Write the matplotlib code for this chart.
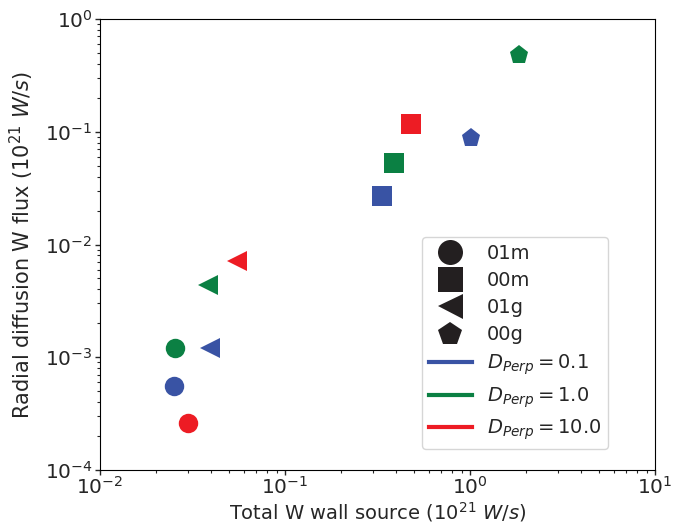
import matplotlib
matplotlib.use("Agg")
import matplotlib.pyplot as plt
from matplotlib.lines import Line2D

# cases (marker) and D_perp (colour)
cases = ["01m", "00m", "01g", "00g"]
markers = ["o", "s", "<", "p"]
d_perp = [0.1, 1.0, 10.0]
colors = ["#3953a4", "#0b8043", "#ed1c24"]

# wall source and radial flux, rows = case, cols = D_perp (None = missing)
source = [
    [0.0251, 0.0254, 0.0300],
    [0.333, 0.388, 0.478],
    [0.0393, 0.0385, 0.0551],
    [1.01, 1.83, None],
]
flux = [
    [5.52e-4, 1.22e-3, 2.62e-4],
    [0.0272, 0.0528, 0.116],
    [1.22e-3, 4.39e-3, 7.15e-3],
    [0.0885, 0.481, None],
]

plt.rcParams['font.family'] = ['DejaVu Sans']
plt.rcParams['text.color'] = '#262626'
plt.rcParams['axes.labelcolor'] = '#262626'
plt.rcParams['xtick.color'] = '#262626'
plt.rcParams['ytick.color'] = '#262626'

fig = plt.figure(figsize=(6.88, 5.26), dpi=100)
ax = fig.add_axes([100/688, 1 - 470/526, 555/688, 451/526])

for i in range(len(cases)):
    for j in range(len(d_perp)):
        if source[i][j] is None:
            continue
        ax.plot(source[i][j], flux[i][j], linestyle='none', marker=markers[i],
                markersize=14, color=colors[j], markeredgewidth=0)

ax.set_xscale('log')
ax.set_yscale('log')
ax.set_xlim(1e-2, 1e1)
ax.set_ylim(1e-4, 1e0)
ax.tick_params(which='major', labelsize=14.5, length=3.5, width=1)
ax.tick_params(axis='x', which='major', pad=1)
ax.tick_params(axis='y', which='major', pad=2)
ax.tick_params(which='minor', length=2.5, width=0.8)
ax.set_xlabel('Total W wall source ($10^{21}$ $W/s$)', fontsize=14)
ax.set_ylabel('Radial diffusion W flux ($10^{21}$ $W/s$)', fontsize=15)
ax.xaxis.set_label_coords(0.5, -0.066)
ax.yaxis.set_label_coords(-0.115, 0.5)

handles = []
for i in range(len(cases)):
    handles.append(Line2D([], [], linestyle='none', marker=markers[i], markersize=18,
                          color='#231f20', markeredgewidth=0, label=cases[i]))
for j in range(len(d_perp)):
    handles.append(Line2D([], [], color=colors[j], linewidth=3,
                          label='$D_{Perp} = %s$' % d_perp[j]))
ax.legend(handles=handles, loc='upper left', bbox_to_anchor=(322/555, 1 - 218/451),
          borderaxespad=0, fontsize=14, handlelength=2.2, labelspacing=0.42,
          borderpad=0.35)

fig.savefig('out.png', dpi=100)
